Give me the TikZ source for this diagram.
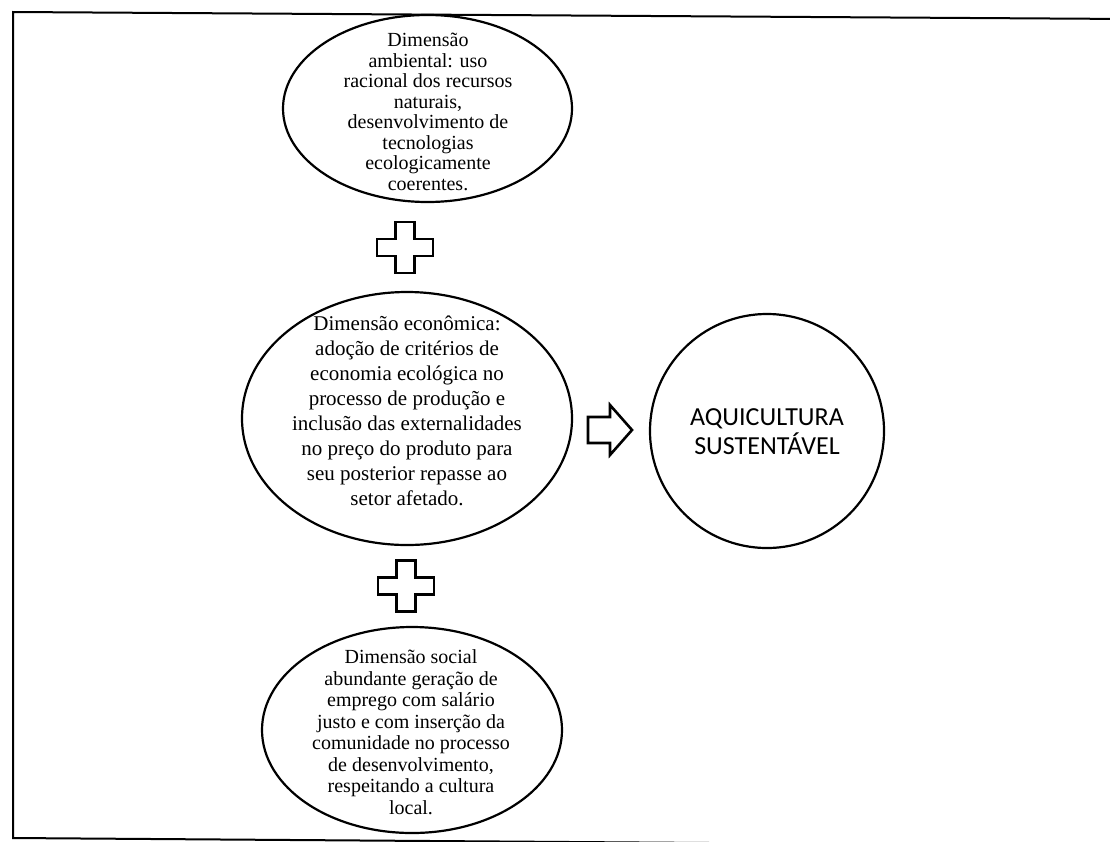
\documentclass[tikz,border=0pt]{standalone}
\usepackage{fontspec}
\setmainfont{Liberation Serif}
\newfontfamily\calib{Carlito}
\usetikzlibrary{shapes.geometric}
\tikzset{
  dimell/.style={ellipse, draw=black, line width=2.2pt, inner sep=0pt, fill=white},
  dimtxt/.style={align=center, inner sep=0pt, text=black, font=\fontsize{20}{20.5}\selectfont},
  midtxt/.style={align=center, inner sep=0pt, text=black, font=\fontsize{21}{25}\selectfont},
  goalcirc/.style={circle, draw=black, line width=2.2pt, inner sep=0pt, minimum size=234pt},
  goaltxt/.style={align=center, inner sep=0pt, text=black, font=\calib\fontsize{26}{29}\selectfont},
  plusshape/.style={draw=black, line width=2.6pt, fill=white, line join=miter},
  arrowshape/.style={draw=black, line width=2.6pt, fill=white, line join=miter},
  framel/.style={draw=black, line width=2pt}
}
\begin{document}
\begin{tikzpicture}[x=1pt,y=-1pt]
\useasboundingbox (0,0) rectangle (1110,841);
\fill[white] (0,0) rectangle (1110,841);
\begin{scope}
\clip (0,0) rectangle (1110,841);
% frame (slightly skewed scan)
\coordinate (ftl) at (13,12);
\coordinate (ftr) at (1130,19);
\coordinate (fbl) at (13,838);
\coordinate (fbr) at (1130,846);
\draw[framel] (ftr) -- (ftl) -- (fbl) -- (fbr);
\end{scope}

% top ellipse
\node[dimell, minimum width=289pt, minimum height=187pt] (amb) at (427.5,108.5) {};
\node[dimtxt] (ambtxt) at (428,112) {Dimensão\\ambiental: uso\\racional dos recursos\\naturais,\\desenvolvimento de\\tecnologias\\ecologicamente\\coerentes.};

% middle ellipse
\node[dimell, minimum width=330pt, minimum height=253pt] (eco) at (407,418.5) {};
\node[midtxt] (ecotxt) at (407,411) {Dimensão econômica:\\adoção de critérios de\\economia ecológica no\\processo de produção e\\inclusão das externalidades\\no preço do produto para\\seu posterior repasse ao\\setor afetado.};

% bottom ellipse
\node[dimell, minimum width=300pt, minimum height=206pt] (soc) at (412,730) {};
\node[dimtxt, font=\fontsize{20}{21.5}\selectfont] (soctxt) at (411,732) {Dimensão social\\abundante geração de\\emprego com salário\\justo e com inserção da\\comunidade no processo\\de desenvolvimento,\\respeitando a cultura\\local.};

% goal circle
\node[goalcirc] (goal) at (767,431) {};
\node[goaltxt] (goaltext) at (767,432) {AQUICULTURA\\SUSTENTÁVEL};

% plus signs
\coordinate (p1) at (405,247.5);
\draw[plusshape] ([shift={(-9.5,-25.5)}]p1) -- ([shift={(9.5,-25.5)}]p1) -- ([shift={(9.5,-8.5)}]p1)
  -- ([shift={(28,-8.5)}]p1) -- ([shift={(28,8.5)}]p1) -- ([shift={(9.5,8.5)}]p1)
  -- ([shift={(9.5,25.5)}]p1) -- ([shift={(-9.5,25.5)}]p1) -- ([shift={(-9.5,8.5)}]p1)
  -- ([shift={(-28,8.5)}]p1) -- ([shift={(-28,-8.5)}]p1) -- ([shift={(-9.5,-8.5)}]p1) -- cycle;
\coordinate (p2) at (406,586);
\draw[plusshape] ([shift={(-9.5,-25.5)}]p2) -- ([shift={(9.5,-25.5)}]p2) -- ([shift={(9.5,-8.5)}]p2)
  -- ([shift={(28,-8.5)}]p2) -- ([shift={(28,8.5)}]p2) -- ([shift={(9.5,8.5)}]p2)
  -- ([shift={(9.5,25.5)}]p2) -- ([shift={(-9.5,25.5)}]p2) -- ([shift={(-9.5,8.5)}]p2)
  -- ([shift={(-28,8.5)}]p2) -- ([shift={(-28,-8.5)}]p2) -- ([shift={(-9.5,-8.5)}]p2) -- cycle;

% block arrow
\coordinate (ar) at (588,430);
\draw[arrowshape] ([shift={(0,-13)}]ar) -- ([shift={(22,-13)}]ar) -- ([shift={(22,-25)}]ar)
  -- ([shift={(44,0)}]ar) -- ([shift={(22,25)}]ar) -- ([shift={(22,13)}]ar)
  -- ([shift={(0,13)}]ar) -- cycle;
\end{tikzpicture}
\end{document}
